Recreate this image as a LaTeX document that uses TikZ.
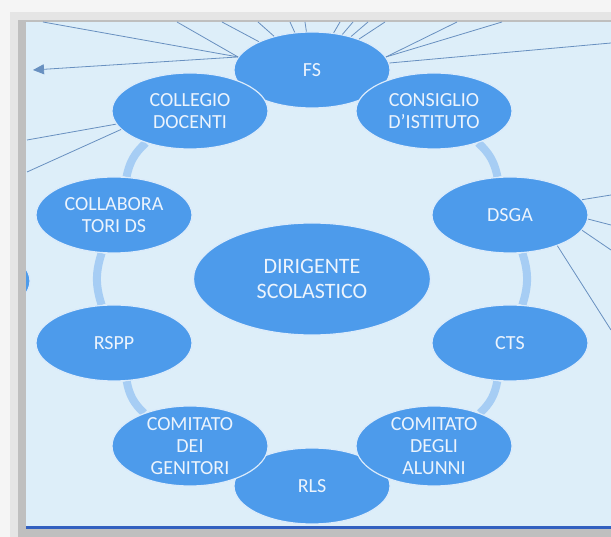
\documentclass[tikz,border=0pt]{standalone}
\usepackage{fontspec}
\setmainfont{Carlito}
\usetikzlibrary{shapes.geometric,arrows.meta,backgrounds}

\definecolor{panelblue}{RGB}{221,238,249}
\definecolor{bubbleblue}{RGB}{77,155,235}
\definecolor{ringblue}{RGB}{166,205,244}
\definecolor{spokeblue}{RGB}{104,144,192}
\definecolor{baseblue}{RGB}{50,96,192}
\definecolor{labelwhite}{RGB}{236,244,253}

\tikzset{
  bubble/.style={ellipse, fill=bubbleblue, draw=white!80!bubbleblue, line width=1.2pt,
    minimum width=156pt, minimum height=76pt, inner sep=-12pt, align=center,
    text=labelwhite, font=\fontsize{20}{22}\selectfont},
  ring/.style={ringblue, line width=8pt},
  spoke/.style={spokeblue, line width=0.8pt},
}

\begin{document}
\begin{tikzpicture}[x=1pt, y=-1pt, >={Triangle[length=11pt,width=10pt]}]
    \useasboundingbox (0,0) rectangle (611,537);

    % shadow and panel
    \begin{scope}[on background layer]
        \fill[gray!8] (0,0) rectangle (611,537);
        \fill[gray!20] (10,12) rectangle (611,537);
        \fill[gray!50] (18,20) rectangle (611,537);
        \fill[panelblue] (26,22) rectangle (611,527);
        \draw[baseblue, line width=2.5pt] (26,527.5) -- (611,527.5);
    \end{scope}

    \node[bubble] (fs) at (312,70) {FS};
    \node[bubble] (rls) at (312,486) {RLS};
    \node[bubble] (collegio) at (190,111) {COLLEGIO\\DOCENTI};
    \node[bubble] (consiglio) at (434,111) {CONSIGLIO\\D'ISTITUTO};
    \node[bubble] (collab) at (114,215) {COLLABORA\\TORI DS};
    \node[bubble] (dsga) at (510,215) {DSGA};
    \node[bubble] (rspp) at (114,343) {RSPP};
    \node[bubble] (cts) at (510,343) {CTS};
    \node[bubble, minimum height=80pt] (genitori) at (190,446) {COMITATO\\DEI\\GENITORI};
    \node[bubble, minimum height=80pt] (alunni) at (434,446) {COMITATO\\DEGLI\\ALUNNI};
    \node[bubble, minimum width=237pt, minimum height=112pt,
          font=\fontsize{22}{25}\selectfont] (ds) at (312,279) {DIRIGENTE\\SCOLASTICO};

    \begin{scope}
        \clip (26,22) rectangle (611,527);
        \node[bubble] (offleft) at (-48,281) {};
    \end{scope}

    % ring
    \begin{scope}[on background layer]
        \draw[ring] (collegio) to[bend right=18] (collab);
        \draw[ring] (collab) to[bend right=18] (rspp);
        \draw[ring] (rspp) to[bend right=18] (genitori);
        \draw[ring] (consiglio) to[bend left=18] (dsga);
        \draw[ring] (dsga) to[bend left=18] (cts);
        \draw[ring] (cts) to[bend left=18] (alunni);
    \end{scope}

    % lines leaving the panel
    \foreach \tx [count=\i] in {222,258,290,305,340,353,368,385}
        \coordinate (top\i) at (\tx,22);
    \coordinate (farleft) at (43,22);
    \coordinate (midleft) at (177,22);
    \coordinate (arrowtip) at (33,70);
    \coordinate (topright1) at (457,22);
    \coordinate (topright2) at (502,22);
    \coordinate (farright) at (611,43);
    \coordinate (collout1) at (27,140);
    \coordinate (collout2) at (27,172);
    \coordinate (dsgaout1) at (611,195);
    \coordinate (dsgaout2) at (611,225);
    \coordinate (dsgaout3) at (611,250);
    \coordinate (dsgaout4) at (611,330);

    \foreach \i in {1,...,8}
        \draw[spoke] (fs) -- (top\i);
    \draw[spoke] (fs.170) -- (farleft);
    \draw[spoke] (fs.170) -- (midleft);
    \draw[spoke, ->] (fs.170) -- (arrowtip);
    \draw[spoke] (fs.10) -- (topright1);
    \draw[spoke] (fs.10) -- (topright2);
    \draw[spoke] (fs) -- (farright);
    \draw[spoke] (collegio) -- (collout1);
    \draw[spoke] (collegio.195) -- (collout2);
    \draw[spoke] (dsga.12) -- (dsgaout1);
    \draw[spoke] (dsga.-3) -- (dsgaout2);
    \draw[spoke] (dsga.-12) -- (dsgaout3);
    \draw[spoke] (dsga.-33) -- (dsgaout4);
\end{tikzpicture}
\end{document}
